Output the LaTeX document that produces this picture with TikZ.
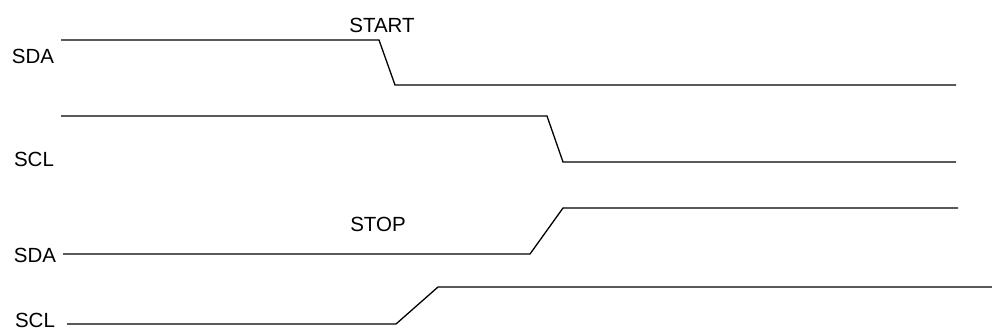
\documentclass[tikz,border=0pt]{standalone}
\usepackage{fontspec}
\setmainfont{Liberation Sans}
\begin{document}
\begin{tikzpicture}[x=1pt,y=-1pt,
  lbl/.style={anchor=base,inner sep=0pt,font=\fontsize{20.5}{24}\selectfont},
  wave/.style={draw=black,line width=1.3pt,line join=miter}]
\useasboundingbox (0,0) rectangle (992,332);
% labels
\node[lbl] (sda1) at (33,63) {SDA};
\node[lbl] (scl1) at (34,166) {SCL};
\node[lbl] (start) at (382,32) {START};
\node[lbl] (stop) at (378,231) {STOP};
\node[lbl] (sda2) at (35,262) {SDA};
\node[lbl] (scl2) at (35,327) {SCL};
% waveform corners
\coordinate (a0) at (61,40);  \coordinate (a1) at (379,40);
\coordinate (a2) at (395,85); \coordinate (a3) at (956,85);
\coordinate (b0) at (61,116); \coordinate (b1) at (547,116);
\coordinate (b2) at (563,162);\coordinate (b3) at (956,162);
\coordinate (c0) at (63,254); \coordinate (c1) at (530,254);
\coordinate (c2) at (563,208);\coordinate (c3) at (958,208);
\coordinate (d0) at (67,324); \coordinate (d1) at (396,324);
\coordinate (d2) at (438,287);\coordinate (d3) at (992,287);
\draw[wave] (a0) -- (a1) -- (a2) -- (a3);
\draw[wave] (b0) -- (b1) -- (b2) -- (b3);
\draw[wave] (c0) -- (c1) -- (c2) -- (c3);
\draw[wave] (d0) -- (d1) -- (d2) -- (d3);
\end{tikzpicture}
\end{document}
